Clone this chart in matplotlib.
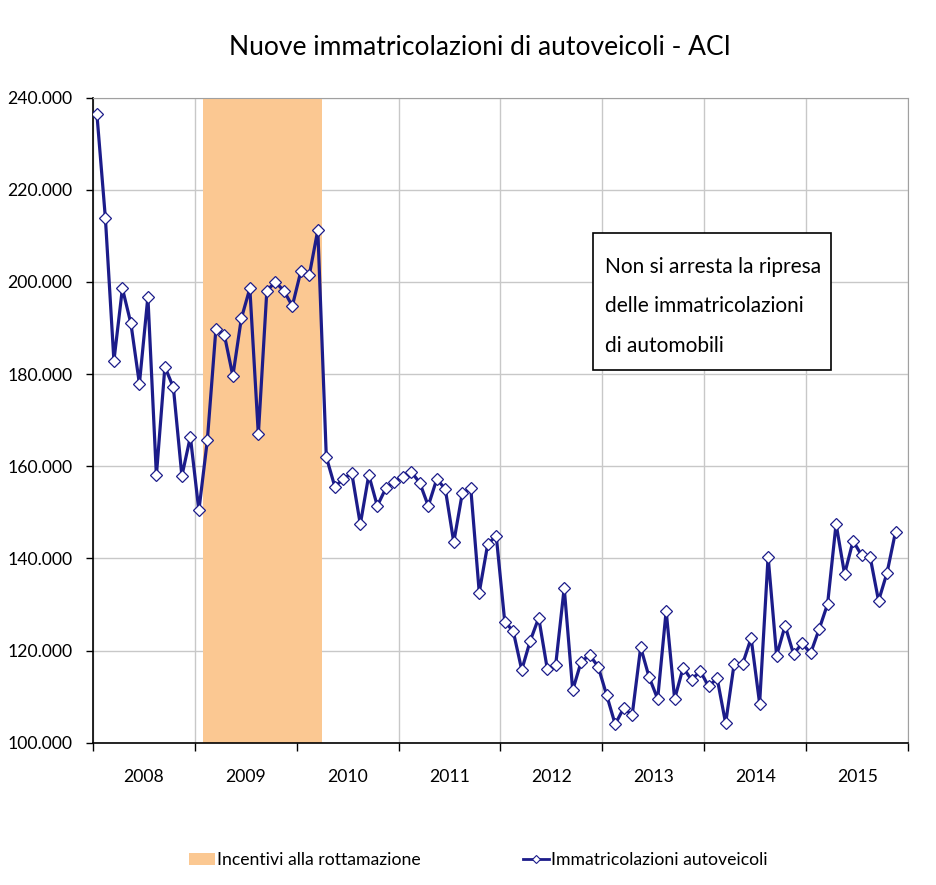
import numpy as np
import matplotlib
matplotlib.use("Agg")
import matplotlib.pyplot as plt
from matplotlib.patches import Rectangle, Patch
from matplotlib.lines import Line2D

plt.rcParams['font.family'] = ['Lato', 'DejaVu Sans']

# immatricolazioni mensili (migliaia), gen 2008 - nov 2015
reg_2008 = [236.4, 213.8, 182.9, 198.6, 191.0, 177.9, 196.8, 158.0, 181.6, 177.1, 157.9, 166.4]
reg_2009 = [150.4, 165.7, 189.7, 188.5, 179.6, 192.1, 198.6, 166.9, 198.1, 200.0, 198.1, 194.8]
reg_2010 = [202.3, 201.5, 211.3, 162.0, 155.6, 157.2, 158.5, 147.4, 158.1, 151.4, 155.2, 156.6]
reg_2011 = [157.7, 158.8, 156.4, 151.4, 157.2, 155.1, 143.5, 154.1, 155.3, 132.6, 143.1, 144.9]
reg_2012 = [126.3, 124.2, 115.8, 122.1, 127.1, 116.1, 116.9, 133.6, 111.4, 117.6, 119.0, 116.5]
reg_2013 = [110.3, 104.0, 107.5, 106.0, 120.7, 114.2, 109.5, 128.6, 109.5, 116.3, 113.6, 115.6]
reg_2014 = [112.2, 114.0, 104.2, 117.1, 117.1, 122.7, 108.5, 140.4, 118.9, 125.4, 119.2, 121.6]
reg_2015 = [119.4, 124.6, 130.1, 147.5, 136.6, 143.8, 140.7, 140.4, 130.8, 136.9, 145.8]

years = [2008, 2009, 2010, 2011, 2012, 2013, 2014, 2015]
incentive_start = (2009, 2)   # feb 2009
incentive_end = (2010, 3)     # mar 2010
yticks = [100, 120, 140, 160, 180, 200, 220, 240]

values = np.array(reg_2008 + reg_2009 + reg_2010 + reg_2011 + reg_2012 + reg_2013 + reg_2014 + reg_2015)
n_months = 12 * len(years)
x = np.arange(len(values)) + 0.5

def month_index(ym):
    return (ym[0] - years[0]) * 12 + ym[1] - 1

navy = '#1c1c8a'
shade = '#fbc892'
gridc = '#c8c8c8'

fig = plt.figure(figsize=(9.36, 8.85), dpi=100)
ax = fig.add_axes([0.099, 0.1608, 0.8714, 0.7288])

ax.axvspan(month_index(incentive_start), month_index(incentive_end) + 1, color=shade, lw=0, zorder=1)
ax.plot(x, values, color=navy, lw=2.3, marker='D', markersize=6,
        markerfacecolor='white', markeredgecolor=navy, markeredgewidth=0.9, zorder=3)

ax.set_xlim(0, n_months)
ax.set_ylim(100, 240)
ax.set_yticks(yticks)
ax.set_yticklabels([f"{v}.000" for v in yticks], fontsize=12.7)
ax.tick_params(axis='y', direction='out', length=5, width=1, pad=9.5)

ax.set_xticks(np.arange(0, n_months + 1, 12))
ax.set_xticklabels([])
ax.set_xticks(np.arange(6, n_months, 12), minor=True)
ax.set_xticklabels([str(y) for y in years], minor=True, fontsize=12.7)
ax.tick_params(axis='x', which='major', direction='out', length=6, width=1)
ax.tick_params(axis='x', which='minor', length=0, pad=19)

ax.grid(True, which='major', color=gridc, lw=1, zorder=0)
ax.set_axisbelow(True)
for s in ['top', 'right']:
    ax.spines[s].set_color('#a0a0a0')
for s in ['left', 'bottom']:
    ax.spines[s].set_color('black')
    ax.spines[s].set_linewidth(1.2)

fig.text(0.513, 1 - 54.6 / 885, 'Nuove immatricolazioni di autoveicoli - ACI',
         ha='center', va='baseline', fontsize=19)

# riquadro di commento
fig.add_artist(Rectangle((592.7 / 936, 1 - 370 / 885), 238 / 936, 136.7 / 885,
                         transform=fig.transFigure, facecolor='white', edgecolor='black', lw=1.2, zorder=5))
for i, line in enumerate(['Non si arresta la ripresa', 'delle immatricolazioni', 'di automobili']):
    fig.text(605 / 936, 1 - (273 + 39.5 * i) / 885, line, ha='left', va='baseline', fontsize=15, zorder=6)

handles = [Patch(facecolor=shade, edgecolor='none'),
           Line2D([0], [0], color=navy, lw=2, marker='D', markersize=4,
                  markerfacecolor='white', markeredgecolor=navy, markeredgewidth=0.8)]
fig.legend(handles, ['Incentivi alla rottamazione', 'Immatricolazioni autoveicoli'],
           loc='center', bbox_to_anchor=(478.5 / 936, 1 - 860 / 885), ncol=2, frameon=False,
           fontsize=12.7, handlelength=1.48, handletextpad=0.12, columnspacing=5.8)

fig.savefig('out.png', dpi=100)
